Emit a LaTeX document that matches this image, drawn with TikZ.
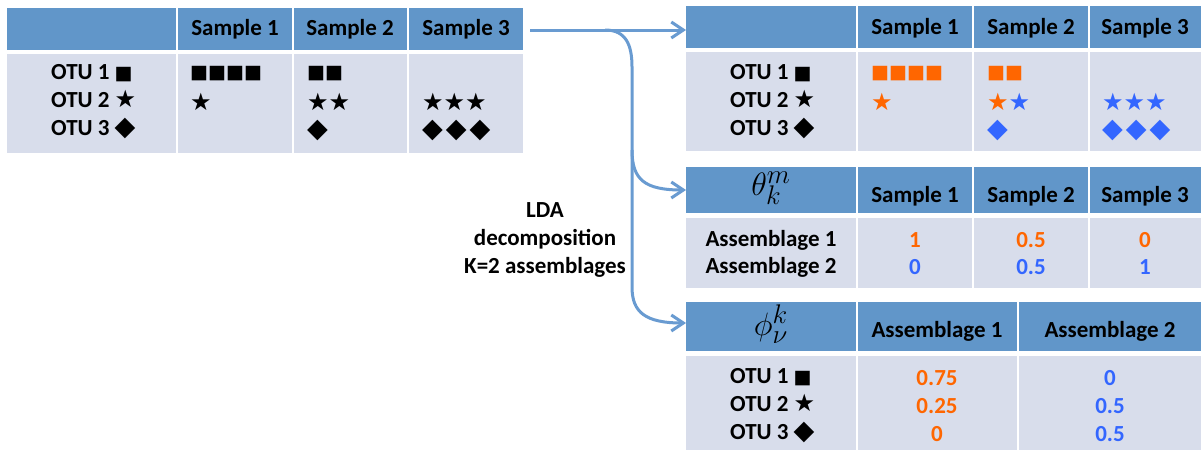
\documentclass[tikz,border=0pt]{standalone}
\usepackage{fontspec}
\setmainfont{Carlito}
\newfontfamily\shapefont{DejaVu Sans}
\usetikzlibrary{arrows.meta}

\definecolor{headblue}{RGB}{97,150,201}
\definecolor{cellblue}{RGB}{216,221,235}
\definecolor{asmA}{RGB}{255,102,0}
\definecolor{asmB}{RGB}{51,102,255}
\definecolor{flowblue}{RGB}{105,155,209}

\newcommand\otusq{{\shapefont\fontsize{19}{19}\selectfont ■}}
\newcommand\otustar{{\shapefont\fontsize{24}{24}\selectfont ★}}
\newcommand\otudia{{\shapefont\fontsize{27}{27}\selectfont ◆}\kern3pt}

\tikzset{
  band/.style={inner sep=0pt,outer sep=0pt,anchor=north west},
  headband/.style={band,fill=headblue},
  bodyband/.style={band,fill=cellblue},
  sep/.style={white,line width=2pt},
  txt/.style={inner sep=0pt,font=\bfseries\fontsize{23}{28}\selectfont},
  greek/.style={inner sep=0pt,font=\Huge,scale=1.3},
  flow/.style={flowblue,line width=3pt,-{Straight Barb[length=12pt,width=16pt]}}
}

\begin{document}
\begin{tikzpicture}[x=1pt,y=-1pt]
\useasboundingbox (0,0) rectangle (1201,450);

\node[headband,minimum width=516pt,minimum height=42pt] (lhead) at (7,8) {};
\node[bodyband,minimum width=516pt,minimum height=99pt] (lbody) at (7,54) {};
\foreach \x in {177,293,408} \draw[sep] (\x,8) -- (\x,153);
\foreach \cx/\lab in {235/Sample 1,350/Sample 2,466/Sample 3}
  \node[txt] at (\cx,29) {\lab};
\node[txt,anchor=west,align=left] (lotu) at (51,102) {OTU 1 \otusq\\OTU 2 \otustar\\OTU 3 \otudia};
\node[txt,anchor=west] at (190,74) {\otusq\otusq\otusq\otusq};
\node[txt,anchor=west] at (190,102) {\otustar};
\node[txt,anchor=west] at (307,74) {\otusq\otusq};
\node[txt,anchor=west] at (307,102) {\otustar\otustar};
\node[txt,anchor=west] at (307,130) {\otudia};
\node[txt,anchor=west] at (422,102) {\otustar\otustar\otustar};
\node[txt,anchor=west] at (422,130) {\otudia\otudia\otudia};

\node[headband,minimum width=515pt,minimum height=42pt] (rhead) at (686,6) {};
\node[bodyband,minimum width=515pt,minimum height=99pt] (rbody) at (686,52) {};
\foreach \x in {857,973,1089} \draw[sep] (\x,6) -- (\x,151);
\foreach \cx/\lab in {915/Sample 1,1031/Sample 2,1145/Sample 3}
  \node[txt] at (\cx,28) {\lab};
\node[txt,anchor=west,align=left] (rotu) at (730,102) {OTU 1 \otusq\\OTU 2 \otustar\\OTU 3 \otudia};
\node[txt,anchor=west,asmA] at (871,74) {\otusq\otusq\otusq\otusq};
\node[txt,anchor=west,asmA] at (871,102) {\otustar};
\node[txt,anchor=west,asmA] at (987,74) {\otusq\otusq};
\node[txt,anchor=west] at (987,102) {{\color{asmA}\otustar}{\color{asmB}\otustar}};
\node[txt,anchor=west,asmB] at (987,130) {\otudia};
\node[txt,anchor=west,asmB] at (1102,102) {\otustar\otustar\otustar};
\node[txt,anchor=west,asmB] at (1102,130) {\otudia\otudia\otudia};

\node[headband,minimum width=515pt,minimum height=46pt] (thead) at (686,167) {};
\node[bodyband,minimum width=515pt,minimum height=70pt] (tbody) at (686,218) {};
\foreach \x in {857,973,1089} \draw[sep] (\x,167) -- (\x,288);
\node[greek] (theta) at (771,188) {$\theta_k^m$};
\foreach \cx/\lab in {915/Sample 1,1031/Sample 2,1145/Sample 3}
  \node[txt] at (\cx,196) {\lab};
\node[txt] at (771,240) {Assemblage 1};
\node[txt] at (771,267) {Assemblage 2};
\foreach \cx/\va/\vb in {915/1/0,1031/0.5/0.5,1145/0/1}{
  \node[txt,asmA] at (\cx,240) {\va};
  \node[txt,asmB] at (\cx,267) {\vb};
}

\node[headband,minimum width=515pt,minimum height=49pt] (phead) at (686,302) {};
\node[bodyband,minimum width=515pt,minimum height=94pt] (pbody) at (686,356) {};
\foreach \x in {857,1018} \draw[sep] (\x,302) -- (\x,450);
\node[greek] (phi) at (771,324) {$\phi_\nu^k$};
\node[txt] at (937,331) {Assemblage 1};
\node[txt] at (1110,331) {Assemblage 2};
\node[txt,anchor=west,align=left] (potu) at (730,406) {OTU 1 \otusq\\OTU 2 \otustar\\OTU 3 \otudia};
\foreach \cy/\va/\vb in {378/0.75/0,406/0.25/0.5,434/0/0.5}{
  \node[txt,asmA] at (937,\cy) {\va};
  \node[txt,asmB] at (1110,\cy) {\vb};
}

\node[txt,align=center] (lda) at (545,240) {LDA\\decomposition\\K=2 assemblages};

\coordinate (src) at (530,30);
\coordinate (split) at (605,30);
\coordinate (fork) at (632,67);
\coordinate (tsplit) at (632,150);
\draw[flow] (src) -- (rhead.west |- src);
\draw[flow] (split) .. controls (626,30) and (632,45) .. (fork) -- (632,287)
  .. controls (632,312) and (645,323) .. ([yshift=3.5pt]phead.west);
\draw[flow] (tsplit) .. controls (632,180) and (645,190) .. (thead.west);
\end{tikzpicture}
\end{document}
